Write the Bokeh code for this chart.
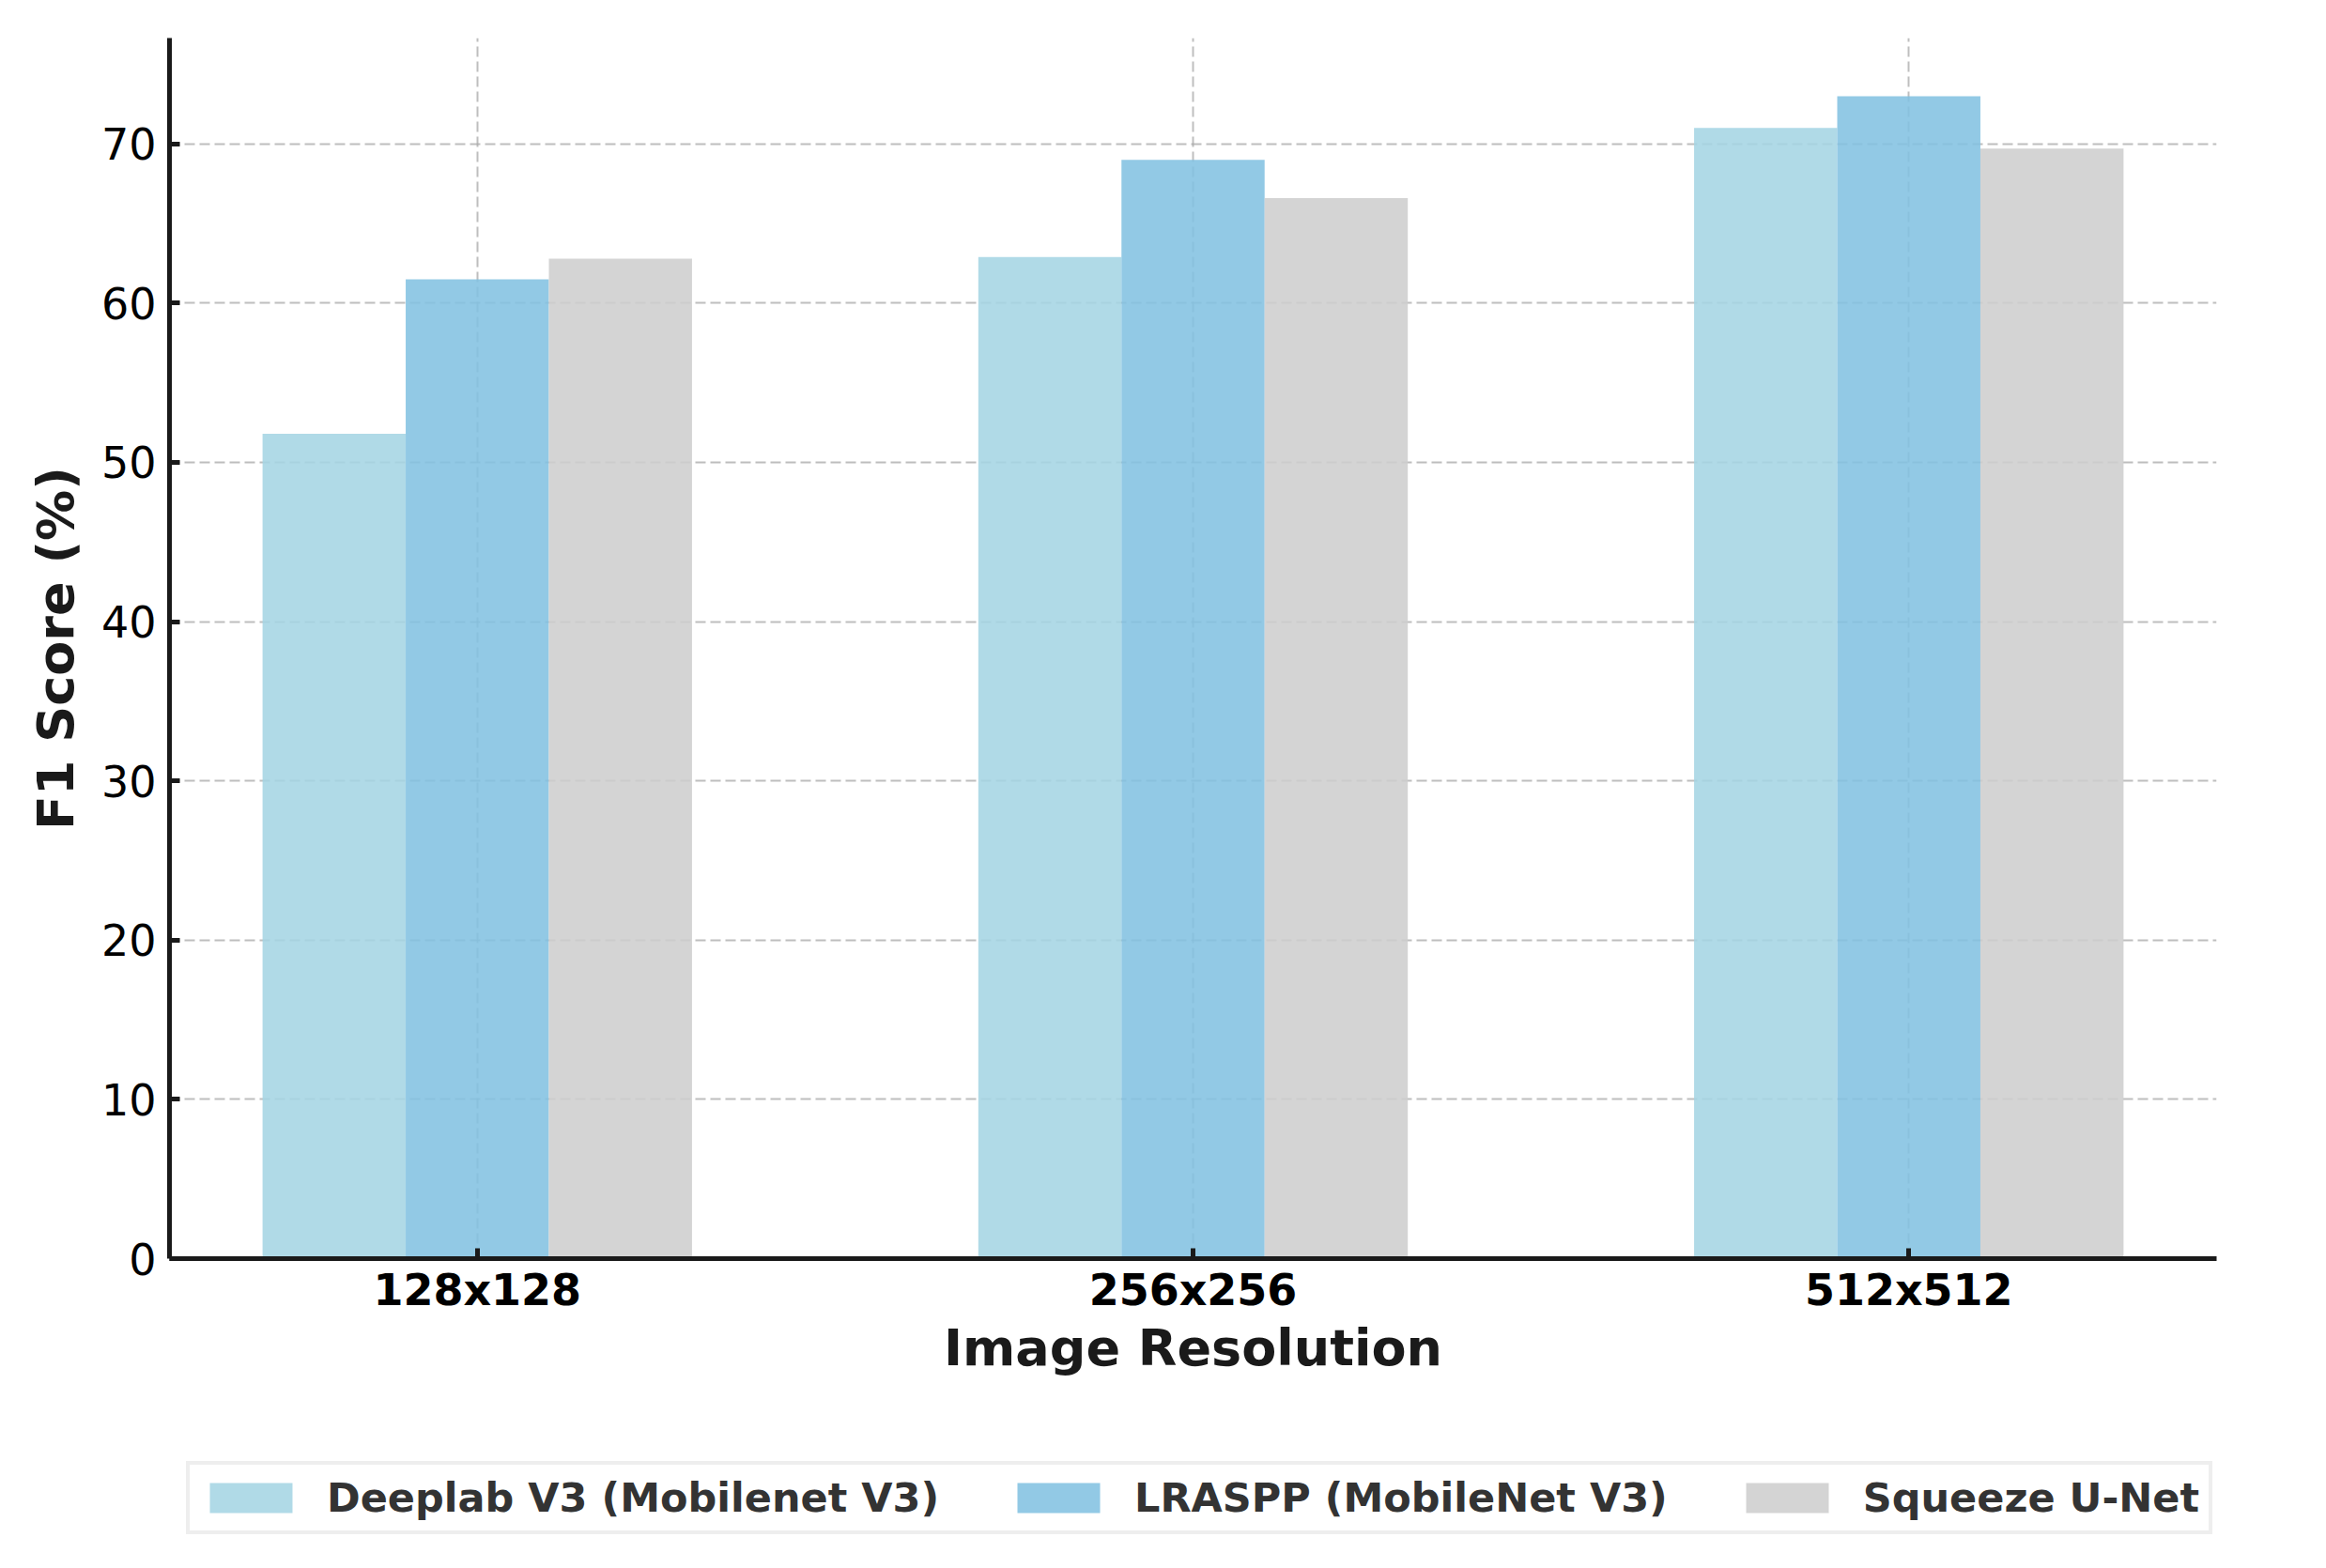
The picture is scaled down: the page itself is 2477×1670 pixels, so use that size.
from bokeh.plotting import figure
from bokeh.layouts import column
from bokeh.models import FixedTicker, Legend, LegendItem, ColumnDataSource, Range1d
from bokeh.transform import dodge
from bokeh.embed import file_html
from bokeh.resources import INLINE

categories = ["128x128", "256x256", "512x512"]
series_names = ["Deeplab V3 (Mobilenet V3)", "LRASPP (MobileNet V3)", "Squeeze U-Net"]
deeplab = [51.8, 62.9, 71.0]
lraspp = [61.5, 69.0, 73.0]
squeeze = [62.8, 66.6, 69.7]
y_ticks = [0, 10, 20, 30, 40, 50, 60, 70]
# colours chosen so that at 0.88 opacity over white they give the reference tints
colors = ["#A5D5E4", "#83C2E1", "#CECECE"]

xs = list(range(len(categories)))
src = ColumnDataSource(dict(x=xs, deeplab=deeplab, lraspp=lraspp, squeeze=squeeze))

FONT = "DejaVu Sans"
bw = 0.2
fields = ["deeplab", "lraspp", "squeeze"]
offsets = [-bw, 0.0, bw]

p = figure(width=2460, height=1480,
           x_range=Range1d(-0.43, 2.43), y_range=Range1d(0, 76.65),
           output_backend="svg", toolbar_location=None,
           min_border_left=180, min_border_right=100,
           min_border_top=40, min_border_bottom=140)
p.outline_line_color = None
p.background_fill_color = "white"

for field, off, col in zip(fields, offsets, colors):
    p.vbar(x=dodge("x", off, range=p.x_range), top=field, width=bw, source=src,
           fill_color=col, fill_alpha=0.88, line_color=None)

# axes
for ax in (p.xaxis[0], p.yaxis[0]):
    ax.axis_line_width = 5
    ax.axis_line_color = "#1a1a1a"
    ax.major_tick_line_width = 5
    ax.major_tick_line_color = "#1a1a1a"
    ax.major_tick_in = 11
    ax.major_tick_out = 0
    ax.minor_tick_line_color = None
    ax.major_label_text_font = FONT
    ax.major_label_text_font_size = "46px"
    ax.major_label_text_color = "#000000"
    ax.axis_label_text_font = FONT
    ax.axis_label_text_font_size = "54px"
    ax.axis_label_text_font_style = "bold"
    ax.axis_label_text_color = "#1a1a1a"

p.xaxis.ticker = FixedTicker(ticks=xs)
p.xaxis.major_label_overrides = {i: c for i, c in zip(xs, categories)}
p.xaxis.major_label_text_font_style = "bold"
p.xaxis.major_label_standoff = 6
p.xaxis.axis_label = "Image Resolution"
p.xaxis.axis_label_standoff = 0

p.yaxis.ticker = FixedTicker(ticks=y_ticks)
p.yaxis.major_label_standoff = 14
p.yaxis.axis_label = "F1 Score (%)"
p.yaxis.axis_label_standoff = 14

# grid
p.grid.grid_line_color = "#a8a8a8"
p.grid.grid_line_alpha = 0.75
p.grid.grid_line_width = 2
p.grid.grid_line_dash = "11 5"

# legend strip below the chart (its own bars sit outside its visible ranges)
p2 = figure(width=2460, height=180, title=None,
            x_range=Range1d(10, 11), y_range=Range1d(200, 201),
            output_backend="svg", toolbar_location=None,
            x_axis_location=None, y_axis_location=None,
            min_border_left=0, min_border_right=0, min_border_top=0, min_border_bottom=0)
p2.outline_line_color = None
p2.grid.visible = False
leg_renderers = []
for field, off, col in zip(fields, offsets, colors):
    r = p2.vbar(x=dodge("x", off, range=p2.x_range), top=field, width=bw, source=src,
                fill_color=col, fill_alpha=0.88, line_color=None)
    leg_renderers.append(r)

legend = Legend(items=[LegendItem(label=n, renderers=[r]) for n, r in zip(series_names, leg_renderers)],
                orientation="horizontal", location=(18, 26))
legend.label_text_font = FONT
legend.label_text_font_size = "43px"
legend.label_text_font_style = "bold"
legend.label_text_color = "#333333"
legend.glyph_width = 110
legend.glyph_height = 40
legend.label_standoff = 26
legend.spacing = 72
legend.padding = 10
legend.margin = 0
legend.border_line_color = "#dddddd"
legend.border_line_width = 4
legend.background_fill_color = "white"
legend.background_fill_alpha = 1.0
p2.add_layout(legend, "center")

open("out.html", "w").write(file_html(column(p, p2, spacing=0), INLINE))
